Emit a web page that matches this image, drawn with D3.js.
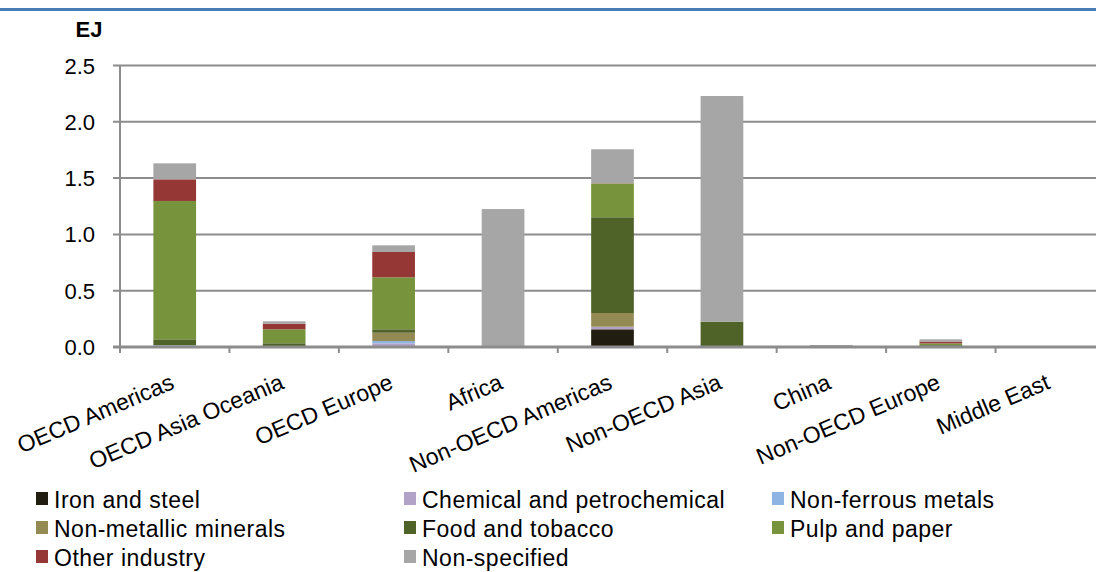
<!DOCTYPE html>
<html>
<head>
<meta charset="utf-8">
<script src="https://cdn.jsdelivr.net/npm/d3@7"></script>
<style>
body{margin:0;background:#fff;}
svg{display:block;font-family:'Liberation Sans',Arial,sans-serif;}
</style>
</head>
<body>
<div id="chart"></div>
<script>
// regions along the x axis
var regions=['OECD Americas','OECD Asia Oceania','OECD Europe','Africa','Non-OECD Americas','Non-OECD Asia','China','Non-OECD Europe','Middle East'];

// EJ per sector, stacked bottom to top
var ironSteel   =[0.000,0.000,0.005,0.000,0.157,0.000,0.000,0.000,0.000];
var chemical    =[0.012,0.005,0.028,0.000,0.023,0.000,0.000,0.005,0.000];
var nonFerrous  =[0.003,0.000,0.020,0.000,0.000,0.000,0.000,0.000,0.000];
var nonMetallic =[0.000,0.000,0.074,0.000,0.122,0.000,0.000,0.005,0.000];
var foodTobacco =[0.053,0.028,0.030,0.000,0.850,0.225,0.000,0.007,0.000];
var pulpPaper   =[1.229,0.124,0.462,0.000,0.300,0.000,0.000,0.015,0.000];
var otherInd    =[0.192,0.050,0.225,0.000,0.002,0.000,0.000,0.016,0.000];
var nonSpec     =[0.142,0.021,0.059,1.225,0.302,2.004,0.018,0.020,0.000];

var yTicks=[0,0.5,1.0,1.5,2.0,2.5];

var series=[
	{name:'Iron and steel',vals:ironSteel,color:'#211d10'},
	{name:'Chemical and petrochemical',vals:chemical,color:'#b3a2c7'},
	{name:'Non-ferrous metals',vals:nonFerrous,color:'#8eb4e3'},
	{name:'Non-metallic minerals',vals:nonMetallic,color:'#948a54'},
	{name:'Food and tobacco',vals:foodTobacco,color:'#4f6228'},
	{name:'Pulp and paper',vals:pulpPaper,color:'#77933c'},
	{name:'Other industry',vals:otherInd,color:'#953735'},
	{name:'Non-specified',vals:nonSpec,color:'#a6a6a6'}
];

var W=1096,H=572;
var svg=d3.select('#chart').append('svg').attr('width',W).attr('height',H);

// top border line
svg.append('rect').attr('x',0).attr('y',8).attr('width',W).attr('height',3).attr('fill','#4a7ebb');

var x=d3.scaleBand().domain(regions).range([120,1105]).paddingInner(0.61).paddingOuter(0.305);
var y=d3.scaleLinear().domain([0,2.5]).range([347,65.5]);

// gridlines
svg.append('g').selectAll('line').data(yTicks.slice(1)).join('line')
	.attr('x1',113).attr('x2',W)
	.attr('y1',function(d){return y(d);}).attr('y2',function(d){return y(d);})
	.attr('stroke','#8c8c8c').attr('stroke-width',2);

// stacked bars
var table=regions.map(function(r,i){
	var o={region:r};
	series.forEach(function(s){o[s.name]=s.vals[i];});
	return o;
});
var stack=d3.stack().keys(series.map(function(s){return s.name;}));
var layers=stack(table);

svg.append('g').selectAll('g').data(layers).join('g')
	.attr('fill',function(d,i){return series[i].color;})
	.selectAll('rect').data(function(d){return d;}).join('rect')
	.attr('x',function(d){return x(d.data.region);})
	.attr('width',x.bandwidth())
	.attr('y',function(d){return y(d[1]);})
	.attr('height',function(d){return Math.max(0,y(d[0])-y(d[1]));});

// y axis
var yAxis=svg.append('g');
yAxis.append('line').attr('x1',120).attr('x2',120).attr('y1',y(2.5)).attr('y2',y(0)+5)
	.attr('stroke','#8c8c8c').attr('stroke-width',2);
yAxis.append('line').attr('x1',113).attr('x2',W).attr('y1',y(0)).attr('y2',y(0))
	.attr('stroke','#8c8c8c').attr('stroke-width',3);
yAxis.selectAll('text').data(yTicks).join('text')
	.attr('x',95).attr('y',function(d){return y(d)+8;})
	.attr('text-anchor','end').attr('font-size',22).attr('fill','#000')
	.text(function(d){return d3.format('.1f')(d);});

svg.append('text').attr('x',89).attr('y',37).attr('text-anchor','middle')
	.attr('font-size',22).attr('font-weight','bold').text('EJ');

// x ticks between categories
var bounds=d3.range(regions.length+1).map(function(i){return 120+i*x.step();});
svg.append('g').selectAll('line').data(bounds).join('line')
	.attr('x1',function(d){return d;}).attr('x2',function(d){return d;})
	.attr('y1',y(0)).attr('y2',y(0)+6)
	.attr('stroke','#8c8c8c').attr('stroke-width',2);

// x labels, rotated
svg.append('g').selectAll('text').data(regions).join('text')
	.attr('transform',function(d){
		return 'translate('+(x(d)+x.bandwidth()/2+1)+',388) rotate(-23)';
	})
	.attr('text-anchor','end').attr('font-size',23).attr('fill','#000')
	.text(function(d){return d;});

// legend
var legCols=[36,404,772],legRows=[499,528,557];
var leg=svg.append('g').selectAll('g').data(series).join('g')
	.attr('transform',function(d,i){
		return 'translate('+legCols[i%3]+','+legRows[Math.floor(i/3)]+')';
	});
leg.append('rect').attr('x',0).attr('y',-7).attr('width',12).attr('height',13)
	.attr('fill',function(d){return d.color;});
leg.append('text').attr('x',18).attr('y',9).attr('font-size',23).attr('letter-spacing',0.5)
	.text(function(d){return d.name;});
</script>
</body>
</html>
